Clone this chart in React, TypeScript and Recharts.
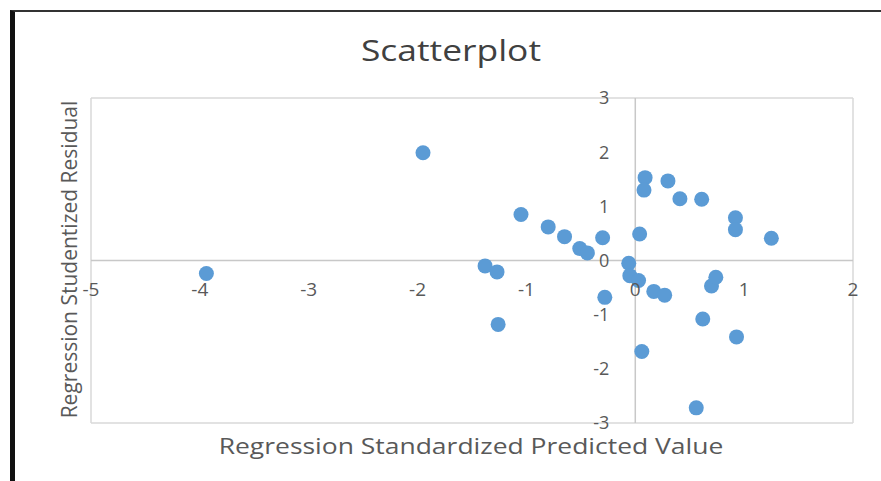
import React from 'react';
import {
  ScatterChart,
  Scatter,
  XAxis,
  YAxis,
  CartesianGrid,
  ReferenceLine,
  ReferenceDot,
} from 'recharts';

// Regression Standardized Predicted Value (x) and Studentized Residual (y)
const predicted = [
  -3.94, -1.95, -1.38, -1.27, -1.26, -1.05, -0.8, -0.65, -0.51, -0.44, -0.3, -0.28, -0.06, -0.05, 0.03, 0.04,
  0.09, 0.08, 0.06, 0.17, 0.27, 0.3, 0.41, 0.61, 0.56, 0.62, 0.7, 0.74, 0.92, 0.92, 0.93, 1.25,
];
const residual = [
  -0.24, 1.99, -0.1, -0.21, -1.18, 0.85, 0.62, 0.44, 0.22, 0.14, 0.42, -0.68, -0.05, -0.28, -0.37, 0.49,
  1.53, 1.3, -1.68, -0.57, -0.64, 1.47, 1.14, 1.13, -2.72, -1.08, -0.47, -0.31, 0.79, 0.57, -1.41, 0.41,
];
const xTicks = [-5, -4, -3, -2, -1, 0, 1, 2];
const yTicks = [-3, -2, -1, 0, 1, 2, 3];

const points = predicted.map((x, i) => ({ x, y: residual[i] }));

const FONT = '"Open Sans", sans-serif';
const TEXT = '#595959';

const Dot = (props: any) => <circle cx={props.cx} cy={props.cy} r={7.5} fill="#5b9bd5" />;

export default function App() {
  return (
    <div style={{ position: 'absolute', left: 0, top: 0, width: 881, height: 481, background: '#fff', overflow: 'hidden' }}>
      <div
        style={{
          position: 'absolute',
          left: 10,
          top: 10,
          width: 900,
          height: 500,
          borderLeft: '5px solid #111',
          borderTop: '2px solid #333',
        }}
      />
      <div
        style={{
          position: 'absolute',
          left: 251,
          top: 35,
          width: 400,
          textAlign: 'center',
          font: `29px ${FONT}`,
          lineHeight: 1,
          color: '#404040',
          transform: 'scaleX(1.22)',
        }}
      >
        Scatterplot
      </div>
      <div
        style={{
          position: 'absolute',
          left: 221,
          top: 439,
          width: 500,
          textAlign: 'center',
          font: `21px ${FONT}`,
          lineHeight: 0.72,
          color: TEXT,
          transform: 'scaleX(1.26)',
        }}
      >
        Regression Standardized Predicted Value
      </div>
      <div
        style={{
          position: 'absolute',
          left: 69 - 170,
          top: 260 - 11,
          width: 340,
          textAlign: 'center',
          font: `21px ${FONT}`,
          lineHeight: 1,
          color: TEXT,
          transform: 'rotate(-90deg)',
        }}
      >
        Regression Studentized Residual
      </div>
      <ScatterChart width={881} height={481} margin={{ top: 98, right: 28, bottom: 58, left: 91 }}>
        <CartesianGrid stroke="#d9d9d9" strokeWidth={1.5} />
        <XAxis
          type="number"
          dataKey="x"
          domain={[-5, 2]}
          ticks={xTicks}
          height={0}
          tick={false}
          axisLine={false}
          tickLine={false}
        />
        <YAxis
          type="number"
          dataKey="y"
          domain={[-3, 3]}
          ticks={yTicks}
          width={0}
          tick={false}
          axisLine={false}
          tickLine={false}
        />
        <ReferenceLine x={0} stroke="#c8c8c8" strokeWidth={1.5} />
        <ReferenceLine y={0} stroke="#c8c8c8" strokeWidth={1.5} />
        <Scatter data={points} fill="#5b9bd5" shape={Dot} isAnimationActive={false} />
        {xTicks.map((t) => (
          <ReferenceDot
            key={`xt-${t}`}
            x={t}
            y={0}
            r={0}
            fill="none"
            stroke="none"
            label={{ value: String(t), position: 'bottom', offset: 22, fill: TEXT, fontSize: 19, fontFamily: FONT }}
          />
        ))}
        {yTicks.map((t) => (
          <ReferenceDot
            key={`yt-${t}`}
            x={0}
            y={t}
            r={0}
            fill="none"
            stroke="none"
            label={{ value: String(t), position: 'left', offset: 26, fill: TEXT, fontSize: 18, fontFamily: FONT }}
          />
        ))}
      </ScatterChart>
    </div>
  );
}
